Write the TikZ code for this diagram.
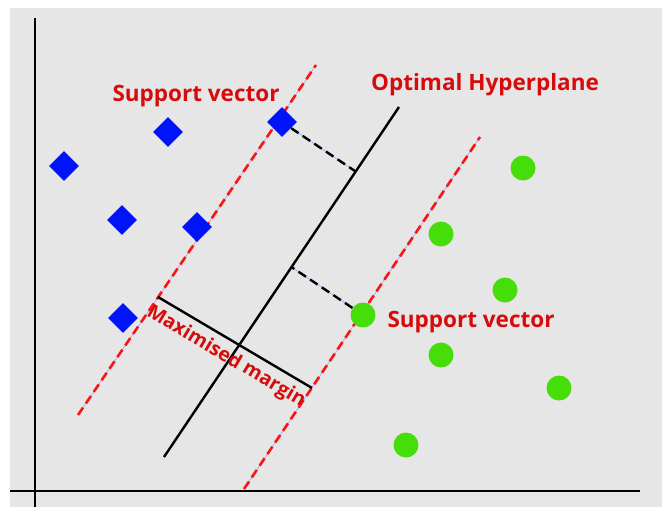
\documentclass[tikz,border=0pt]{standalone}
\usepackage{fontspec}
\setmainfont{Open Sans}
\usepackage{tikz}
\usepackage{xcolor}
\usetikzlibrary{shapes.geometric, calc}

\definecolor{bggray}{RGB}{230,230,230}
\definecolor{svred}{RGB}{214,12,12}
\definecolor{dashred}{RGB}{250,20,20}
\definecolor{svblue}{RGB}{0,20,250}
\definecolor{svgreen}{RGB}{70,222,10}
\definecolor{thinblue}{RGB}{160,170,255}

\begin{document}
\begin{tikzpicture} [
        x = 1pt, y = -1pt,
        blue pt/.style = { diamond, fill = svblue, inner sep = 0, minimum size = 30pt },
        green pt/.style = { circle, fill = svgreen, inner sep = 0, minimum size = 25pt },
        lbl/.style = { text = svred, font = \fontsize{22.5}{26}\selectfont\bfseries },
        axis/.style = { line width = 2.4pt },
        margin line/.style = { dashred, line width = 2.6pt, dash pattern = on 9pt off 5pt },
        under line/.style = { thinblue, line width = 0.7pt },
        dist line/.style = { line width = 2.4pt, dash pattern = on 9pt off 5pt }
        ]
        
        \useasboundingbox (0,0) rectangle (662,507);
        \fill [bggray] (10,8) rectangle (662,507);
        
        % axes
        \draw [axis] (35,18) -- (35,507);
        \draw [axis] (10,491) -- (640,491);
        
        % the two margins and the hyperplane
        \coordinate (m1a) at (78,415);
        \coordinate (m1b) at (316,65);
        \coordinate (m2a) at (244,489);
        \coordinate (m2b) at (480,137);
        \coordinate (h1) at (164,457);
        \coordinate (h2) at (399,107);
        \draw [under line] (m1a) -- (m1b);
        \draw [under line] (m2a) -- (m2b);
        \draw [margin line] (m1a) -- (m1b);
        \draw [margin line] (m2a) -- (m2b);
        \draw [line width = 2.4pt] (h1) -- (h2);
        
        % width of the margin
        \coordinate (w1) at (158,297);
        \coordinate (w2) at (312,388);
        \draw [line width = 2.4pt] (w1) -- (w2);
        
        % class one
        \node [blue pt] (b1) at (64,166) {};
        \node [blue pt] (b2) at (168,132) {};
        \node [blue pt] (b3) at (282,122) {};
        \node [blue pt] (b4) at (122,220) {};
        \node [blue pt] (b5) at (197,227) {};
        \node [blue pt] (b6) at (123,318) {};
        
        % class two
        \node [green pt] (g1) at (523,168) {};
        \node [green pt] (g2) at (441,234) {};
        \node [green pt] (g3) at (505,290) {};
        \node [green pt] (g4) at (363,315) {};
        \node [green pt] (g5) at (441,355) {};
        \node [green pt] (g6) at (559,388) {};
        \node [green pt] (g7) at (406,445) {};
        
        % distances to the hyperplane
        \coordinate (f1) at ($(h1)!(b3)!(h2)$);
        \coordinate (f2) at ($(h1)!(g4)!(h2)$);
        \draw [under line] (b3) -- (f1);
        \draw [under line] (g4) -- (f2);
        \draw [dist line] (b3) -- (f1);
        \draw [dist line] (g4) -- (f2);
        
        % labels
        \node [lbl] (sv1) at (196,96) {Support vector};
        \node [lbl] (hyp) at (485,85) {Optimal Hyperplane};
        \node [lbl] (sv2) at (471,322) {Support vector};
        \node [lbl, font = \fontsize{19.5}{22}\selectfont\bfseries, rotate = -30.6] (mm) at (226,357) {Maximised margin};
    \end{tikzpicture}
\end{document}
